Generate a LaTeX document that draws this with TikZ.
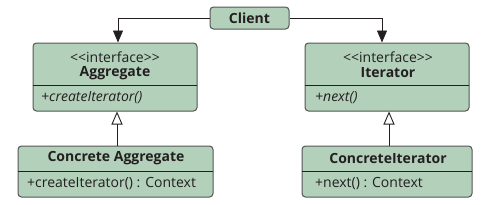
\documentclass[tikz,border=0pt]{standalone}
\usepackage{fontspec}
\setmainfont{Open Sans}[Ligatures=NoCommon]
\usetikzlibrary{arrows.meta}
\definecolor{boxfill}{HTML}{B3D1BA}
\definecolor{boxline}{HTML}{555555}
\definecolor{txt}{HTML}{231F20}
\tikzset{
  x=1pt, y=-1pt,
  umlbox/.style={draw=boxline, line width=1pt, fill=boxfill, rounded corners=3.5pt, inner sep=0pt},
  lbl/.style={inner sep=0pt, text=txt, font=\fontsize{14}{16}\selectfont},
  ttl/.style={lbl, font=\fontsize{14}{16}\selectfont\bfseries},
  assoc/.style={draw=txt, line width=0.9pt, -{Triangle[length=12pt,width=10pt]}},
  inherit/.style={draw=txt, line width=0.9pt, -{Triangle[open,length=13pt,width=11pt,fill=white]}},
  divider/.style={draw=txt, line width=0.8pt}
}
\newcommand{\guil}[1]{{<}{<}#1{>}{>}}
\begin{document}
\begin{tikzpicture}
\useasboundingbox (0,0) rectangle (495,204);
% Client
\node[umlbox, minimum width=79pt, minimum height=22pt] (client) at (249.5,18) {};
\node[ttl] (clientt) at (client.center) {Client};
% Aggregate
\node[umlbox, minimum width=164pt, minimum height=68pt] (agg) at (115,77) {};
\draw[divider] (33,85) -- (197,85);
\node[lbl] (aggs) at (115,57) {\guil{interface}};
\node[ttl] (aggn) at (115,73) {Aggregate};
\node[lbl, anchor=west] (aggm) at (41,98) {\itshape +createIterator()};
% Iterator
\node[umlbox, minimum width=164pt, minimum height=68pt] (itr) at (387,77) {};
\draw[divider] (305,85) -- (469,85);
\node[lbl] (itrs) at (388,57) {\guil{interface}};
\node[ttl] (itrn) at (388,73) {Iterator};
\node[lbl, anchor=west] (itrm) at (315,98) {\itshape +next()};
% Concrete Aggregate
\node[umlbox, minimum width=195pt, minimum height=51pt] (cagg) at (115.5,171.5) {};
\draw[divider] (18,171) -- (213,171);
\node[ttl] (caggn) at (116,158) {Concrete Aggregate};
\node[lbl, anchor=west] (caggm) at (27,184) {+createIterator() : Context};
% Concrete Iterator
\node[umlbox, minimum width=170pt, minimum height=51pt] (citr) at (387,171.5) {};
\draw[divider] (302,171) -- (472,171);
\node[ttl] (citrn) at (388,158) {ConcreteIterator};
\node[lbl, anchor=west] (citrm) at (315,184) {+next() : Context};
% connectors
\draw[assoc] (client.west) -| (agg.north -| 118,0);
\draw[assoc] (client.east) -| (itr.north -| 382,0);
\draw[inherit] (cagg.north -| 117,0) -- (agg.south -| 117,0);
\draw[inherit] (citr.north -| 389,0) -- (itr.south -| 389,0);
\end{tikzpicture}
\end{document}
